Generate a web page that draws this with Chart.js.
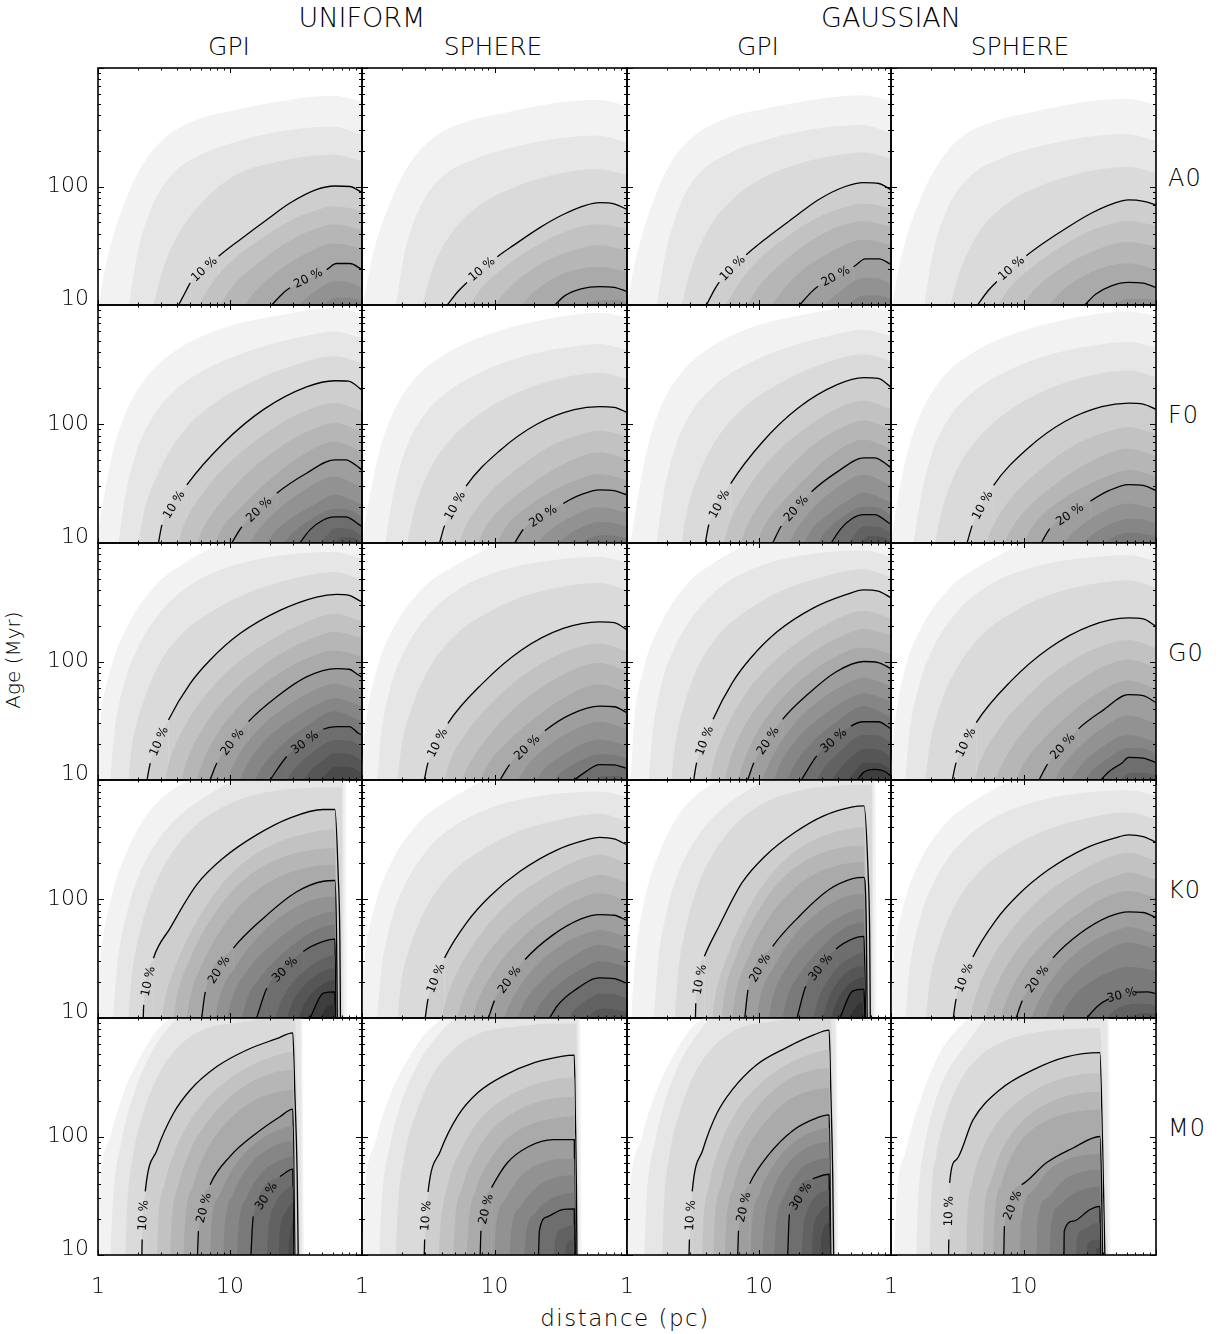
<!DOCTYPE html>
<html><head><meta charset="utf-8">
<script src="https://cdn.jsdelivr.net/npm/chart.js@4.4.1/dist/chart.umd.min.js"></script>
<style>
html,body{margin:0;padding:0;background:#fff;}
#wrap{position:relative;width:1226px;height:1334px;overflow:hidden;font-family:'DejaVu Sans',sans-serif;color:#000;}
#wrap canvas{position:absolute;}
.t{position:absolute;white-space:nowrap;line-height:1;font-weight:300;transform:translate(-50%,-50%);}
.r{position:absolute;white-space:nowrap;line-height:1;font-weight:300;transform:translate(0,-50%);font-size:24px;letter-spacing:1px;}
</style></head><body><div id="wrap">
<div class="t" style="left:362px;top:17px;font-size:27px">UNIFORM</div>
<div class="t" style="left:891px;top:17px;font-size:27px">GAUSSIAN</div>
<div class="t" style="left:229px;top:46px;font-size:25px">GPI</div>
<div class="t" style="left:493px;top:46px;font-size:25px">SPHERE</div>
<div class="t" style="left:758px;top:46px;font-size:25px">GPI</div>
<div class="t" style="left:1020px;top:46px;font-size:25px">SPHERE</div>
<div class="r" style="left:1168px;top:178px">A0</div>
<div class="r" style="left:1168px;top:415px">F0</div>
<div class="r" style="left:1168px;top:653px">G0</div>
<div class="r" style="left:1168px;top:890px">K0</div>
<div class="r" style="left:1168px;top:1128px">M0</div>
<div class="t" style="left:13px;top:660px;font-size:20px;transform:translate(-50%,-50%) rotate(-90deg)">Age (Myr)</div>
<div class="t" style="left:625px;top:1318px;font-size:23px;letter-spacing:1.5px">distance (pc)</div>
</div>
<script>
// ---------------- axis ticks ----------------
const X_TICKS = [1,2,3,4,5,6,7,8,9,10,20,30,40,50,60,70,80,90,100];
const X_MAJOR = [1,10,100];
const X_LABELS = [1,10];
const Y_TICKS = [10,20,30,40,50,60,70,80,90,100,200,300,400,500,600,700,800,900,1000];
const Y_MAJOR = [10,100,1000];
const Y_LABELS = [10,100];

const ROW_NAMES = ['A0','F0','G0','K0','M0'];
const COL_NAMES = ['UNIFORM GPI','UNIFORM SPHERE','GAUSSIAN GPI','GAUSSIAN SPHERE'];
// contour levels: 2.5 %, 5 %, ... ; lines drawn at 10, 20, 30, 40 %
const BLACK_LEVELS = [4,8,12,16];
const LEVEL_COLORS = ['#f2f2f2','#e6e6e6','#dadada','#cecece','#c2c2c2','#b6b6b6','#aaaaaa','#9e9e9e','#929292','#868686','#7a7a7a','#6e6e6e','#626262','#565656','#4a4a4a','#3e3e3e','#323232'];

// ---------------- contour data: each level = list of [distance (pc), age (Myr)] ----------------
const A0_UNIFORM_GPI = [
 [[1.01,10],[1.17,24],[1.7,88],[2.3,168],[3.3,264],[5.6,365],[11,443],[28,538],[60,582],[100,521]],
 [[1.71,10],[2.0,28],[2.6,70],[3.6,125],[6,185],[12,245],[28,300],[60,321],[100,273]],
 [[2.64,10],[3.1,20],[4.2,42],[6.5,78],[11,125],[22,160],[40,180],[62,185],[100,163]],
 [[4.08,10],[4.7,13.5],[5,15.4],[8.2,25.8],[11.9,35.6],[19,52.5],[28.5,72.5],[45,94],[62,101],[81,100],[100,89]],
 [[5.8,10],[7.2,15],[10.5,24],[17,36],[28,51],[45,63],[62,68],[100,62]],
 [[8.4,10],[10.5,14.5],[15,21],[25,32],[42,43],[62,48],[100,43]],
 [[13,10],[16,13.5],[22,18.5],[35,26],[62,33],[100,30]],
 [[20.7,10],[25.4,12.7],[28.5,14],[54,19.9],[64,22.4],[81,22.4],[100,19.9]],
 [[33,10],[42,12.5],[62,15.9],[80,15.5],[100,14]],
 [[51,10],[62,11.5],[80,11.5],[100,10.8]]
];
const A0_UNIFORM_GPI_LABELS = [[4,2,'10 %'],[8,2,'20 %']];

const A0_UNIFORM_SPHERE = [
 [[1.02,10],[1.18,24],[1.75,88],[2.4,168],[3.5,260],[6,350],[12,420],[28,505],[60,540],[100,480]],
 [[1.8,10],[2.1,28],[2.8,70],[4,120],[7,170],[14,215],[30,255],[60,270],[100,235]],
 [[2.85,10],[3.4,20],[4.7,40],[7.5,68],[13,95],[25,122],[45,138],[62,140],[100,125]],
 [[4.4,10],[5.3,13],[6.2,15.5],[10.5,25.5],[14,32],[22,45],[33,58],[48,69],[62,73],[81,71],[100,64]],
 [[6.5,10],[8,14],[12,21],[20,31],[35,42],[62,48],[100,44]],
 [[10,10],[12.5,13.5],[18,19],[30,26],[62,32],[100,29]],
 [[16,10],[20,13],[30,17.5],[62,21],[100,19]],
 [[28.5,10],[34,12],[45,13.7],[62,14.3],[80,14.1],[100,13]],
 [[48,10],[62,11],[85,11],[100,10.5]]
];
const A0_UNIFORM_SPHERE_LABELS = [[4,2,'10 %']];

const A0_GAUSSIAN_GPI = [
 [[1.0,10],[1.16,24],[1.68,90],[2.25,172],[3.25,270],[5.5,372],[11,452],[28,548],[60,590],[100,530]],
 [[1.68,10],[1.97,28],[2.55,72],[3.5,128],[5.9,190],[12,252],[28,308],[60,330],[100,283]],
 [[2.6,10],[3.05,20],[4.1,43],[6.3,78],[10.7,118],[21,158],[40,184],[62,194],[100,172]],
 [[4.0,10],[4.6,13.5],[5,15.6],[8,26.5],[11.5,37],[18.5,55],[28,77],[45,100],[62,108],[81,106],[100,94]],
 [[5.6,10],[7,15],[10.2,25],[16.5,38],[27,54],[45,67],[62,72],[100,66]],
 [[8.1,10],[10.2,14.8],[14.5,22],[24,34],[40,46],[62,51],[100,46]],
 [[12.5,10],[15.5,13.8],[21,19.5],[34,27.5],[62,35.5],[100,32]],
 [[20.3,10],[25,12.9],[28,14.4],[52,21],[64,24.5],[81,24.5],[100,22]],
 [[31,10],[40,12.7],[62,17],[80,16.7],[100,15]],
 [[47,10],[62,12],[80,12],[100,11.2]]
];
const A0_GAUSSIAN_GPI_LABELS = [[4,2,'10 %'],[8,2,'20 %']];

const A0_GAUSSIAN_SPHERE = [
 [[1.02,10],[1.18,24],[1.74,88],[2.4,170],[3.45,265],[6,355],[12,428],[28,515],[60,550],[100,490]],
 [[1.78,10],[2.08,28],[2.75,70],[3.95,122],[7,175],[14,222],[30,262],[60,278],[100,243]],
 [[2.8,10],[3.35,20],[4.6,41],[7.3,70],[12.5,98],[25,127],[45,143],[62,146],[100,130]],
 [[4.5,10],[5.4,13.2],[6.3,15.8],[10.5,26],[14,33],[22,46],[33,60],[48,72],[62,77],[81,75],[100,70]],
 [[6.4,10],[8,14.3],[12,21.5],[20,32],[35,44],[62,51],[100,47]],
 [[9.8,10],[12.3,13.8],[18,19.5],[30,27],[62,34],[100,31]],
 [[15.5,10],[19.5,13.2],[30,18.2],[62,22.5],[100,20]],
 [[29,10],[35,12.3],[46,14.5],[62,15.5],[80,15.3],[100,14]],
 [[46,10],[62,11.3],[85,11.3],[100,10.7]]
];
const A0_GAUSSIAN_SPHERE_LABELS = [[4,2,'10 %']];

const F0_UNIFORM_GPI = [
 [[0.97,10],[1.1,23],[1.31,61],[1.66,132],[2.35,250],[3.96,420],[8.9,640],[21,800],[62,940],[100,850]],
 [[1.43,10],[1.6,24],[1.95,58],[2.6,115],[4,200],[7.5,310],[16,430],[35,540],[62,600],[100,530]],
 [[2.03,10],[2.2,17],[2.9,40],[4.2,80],[7,140],[14,220],[30,310],[62,371],[100,325]],
 [[2.87,10],[3.05,14.2],[4.71,30.8],[8.9,69],[17.9,132],[38,205],[62,231],[79,229],[100,193]],
 [[4.07,10],[4.4,13.5],[6.2,26],[10.5,50],[19,85],[35,125],[62,150],[100,128]],
 [[5.6,10],[6.3,13.5],[8.8,23],[14,40],[24,64],[40,88],[62,102],[100,86]],
 [[7.7,10],[8.8,13.5],[12.5,21],[20,34],[33,52],[62,71],[100,59]],
 [[10.3,10],[12.3,13.7],[22.6,26.2],[38,38.6],[62,50],[75,50],[96,42.6],[100,41]],
 [[14.2,10],[16.5,13],[23,19],[35,27],[62,36],[100,29]],
 [[19,10],[22,12.5],[30,16.5],[45,21.5],[62,25.4],[100,21]],
 [[25.4,10],[30,12.2],[40,15.5],[62,19.3],[80,19],[100,16.3]],
 [[33.8,10],[40.3,12.9],[50.9,15.6],[62,16.6],[75,16.6],[96,14.2],[100,13.8]],
 [[48,10],[55,11.8],[62,13.3],[80,13.2],[100,11.5]],
 [[62,10],[70,11.1],[88,11],[100,10]]
];
const F0_UNIFORM_GPI_LABELS = [[4,1,'10 %'],[8,1,'20 %']];

const F0_UNIFORM_SPHERE = [
 [[1.0,10],[1.13,23],[1.36,60],[1.75,130],[2.5,240],[4.3,390],[9.5,580],[22,740],[62,860],[100,790]],
 [[1.5,10],[1.7,24],[2.1,58],[2.8,110],[4.4,185],[8.3,280],[18,380],[40,450],[62,470],[100,420]],
 [[2.2,10],[2.45,18],[3.2,40],[4.7,75],[8,125],[16,190],[33,245],[62,270],[100,238]],
 [[3.85,10],[4.2,14],[6.1,30],[11,60],[21,100],[40,132],[62,140],[80,138],[100,125]],
 [[5.4,10],[6,13.5],[8.5,24],[14,40],[25,63],[45,82],[62,88],[100,78]],
 [[7.5,10],[8.5,13.5],[12,21],[19.5,32],[33,46],[62,58],[100,51]],
 [[10.5,10],[12,13.3],[16.5,19],[26,26.5],[45,35],[62,38],[100,34]],
 [[14.2,10],[16.5,13],[33,21.5],[45,25.5],[62,28],[80,27.5],[100,25.4]],
 [[21,10],[25,12.2],[35,15.8],[62,20],[100,18]],
 [[30,10],[37,12],[50,14.2],[62,15],[80,14.8],[100,13.6]],
 [[45,10],[55,11.3],[70,11.6],[100,11]]
];
const F0_UNIFORM_SPHERE_LABELS = [[4,1,'10 %'],[8,1,'20 %']];

const F0_GAUSSIAN_GPI = [
 [[1.06,10],[1.2,23],[1.42,62],[1.78,135],[2.48,255],[4.15,430],[9.1,655],[20.5,820],[62,960],[100,870]],
 [[1.68,10],[1.87,24],[2.27,59],[2.97,118],[4.45,205],[8.09,318],[16.6,442],[35,555],[62,620],[100,548]],
 [[2.6,10],[2.8,17],[3.6,41],[5.05,82],[8.05,144],[15.2,228],[30.7,322],[62,385],[100,338]],
 [[3.92,10],[4.17,14.3],[6.1,31.5],[10.66,71],[19.9,137],[39.1,214],[62,245],[80,242],[100,204]],
 [[5.41,10],[5.84,13.7],[7.84,26.5],[12.5,52],[21.2,88],[36.4,130],[62,157],[100,134]],
 [[7.24,10],[8.05,13.7],[10.8,23.5],[16.2,41],[25.9,67],[41.2,92],[62,107],[100,90]],
 [[9.69,10],[10.9,13.7],[14.8,21.5],[22.4,35],[34.8,54],[62,74],[100,62]],
 [[12.7,10],[14.75,13.9],[25,27],[39.7,40],[62,52],[75,52],[96,44.5],[100,43]],
 [[17,10],[19.4,13.2],[25.6,19.5],[37.2,28],[62,37.5],[100,30.5]],
 [[21.8,10],[24.7,12.7],[32.5,17],[46.3,22.5],[62,26.5],[100,22]],
 [[27.6,10],[31.9,12.4],[40.9,16],[62,20.2],[80,19.9],[100,17]],
 [[35.2,10],[41.5,13.1],[50.5,16],[62,17.3],[75,17.3],[96,14.8],[100,14.4]],
 [[48.2,10],[54,12],[62,13.8],[80,13.7],[100,12]],
 [[59.7,10],[68,11.4],[86,11.3],[100,10.2]]
];
const F0_GAUSSIAN_GPI_LABELS = [[4,1,'10 %'],[8,1,'20 %']];

const F0_GAUSSIAN_SPHERE = [
 [[1.0,10],[1.12,23],[1.35,61],[1.73,132],[2.45,245],[4.2,400],[9.3,595],[21.5,760],[62,880],[100,810]],
 [[1.48,10],[1.68,24],[2.07,59],[2.75,113],[4.3,190],[8.1,290],[17.5,395],[39,468],[62,490],[100,437]],
 [[2.15,10],[2.4,18],[3.13,41],[4.6,77],[7.8,130],[15.6,198],[32,256],[62,282],[100,248]],
 [[3.75,10],[4.1,14],[5.95,30.5],[10.7,62],[20.5,105],[39,140],[62,150],[80,147],[100,133]],
 [[5.2,10],[5.8,13.5],[8.2,24.5],[13.5,41.5],[24,66],[44,87],[62,94],[100,83]],
 [[7.2,10],[8.2,13.5],[11.6,21.5],[19,33.5],[32,48.5],[62,62],[100,54]],
 [[10,10],[11.5,13.4],[15.8,19.5],[25,27.5],[44,37],[62,41],[100,36.5]],
 [[13.6,10],[15.8,13.2],[32,22.5],[44,27.5],[62,31],[80,30.5],[100,27.5]],
 [[20,10],[24,12.4],[33,16.3],[62,21.5],[100,19.2]],
 [[28,10],[34.5,12.2],[47,14.7],[62,16],[80,15.8],[100,14.4]],
 [[41,10],[50,11.5],[65,12.2],[100,11.5]]
];
const F0_GAUSSIAN_SPHERE_LABELS = [[4,1,'10 %'],[8,1,'20 %']];

const G0_UNIFORM_GPI = [
 [[0.98,10],[1.04,30],[1.24,84],[1.66,196],[2.8,453],[4.44,667],[6.7,867],[9.5,1050],[30,1300],[100,1300]],
 [[1.24,10],[1.33,25],[1.56,62],[2.0,130],[3.0,265],[5,440],[9.5,620],[20,760],[62,840],[100,740]],
 [[1.7,10],[1.82,20],[2.2,45],[2.9,95],[4.3,170],[7.5,270],[14.5,390],[30,500],[62,570],[100,490]],
 [[2.35,10],[2.49,13.9],[3.42,32.1],[5,65.3],[7.07,103],[11.9,172],[23.9,270],[45.3,350],[64,369],[80,362],[94,330],[100,318]],
 [[3.23,10],[3.45,14],[4.5,28],[6.8,55],[11,95],[20,150],[38,215],[62,253],[100,218]],
 [[4.3,10],[4.65,14],[6.2,27],[9.3,49],[15,80],[27,125],[45,162],[62,178],[100,157]],
 [[5.6,10],[6.2,14],[8.3,26],[12.5,45],[20,70],[36,103],[62,124],[100,110]],
 [[7.07,10],[7.95,13.9],[13.8,31.1],[22.6,50.5],[38,74.3],[64,87.2],[80,86],[94,77],[100,74]],
 [[9.5,10],[10.8,14],[16,26],[26,41],[42,56],[62,65],[100,56]],
 [[11.9,10],[13.6,13.8],[19.5,23],[30,33],[45,43],[62,49],[100,42]],
 [[15.5,10],[18,13.5],[25,20],[37,28],[62,38],[100,31]],
 [[20.1,10],[26.9,15.8],[50.9,26.8],[64,28.2],[80,28.2],[94,24.8],[100,24]],
 [[26.9,10],[31,12.5],[40,16.3],[62,21.7],[80,21.5],[100,18.8]],
 [[35.9,10],[42,12.4],[52,15],[62,16.8],[80,16.6],[100,14.5]],
 [[48,10],[55,11.5],[62,13],[80,12.9],[100,11.5]]
];
const G0_UNIFORM_GPI_LABELS = [[4,1,'10 %'],[8,1,'20 %'],[12,1,'30 %']];

const G0_UNIFORM_SPHERE = [
 [[0.98,10],[1.06,28],[1.27,80],[1.7,185],[2.9,420],[4.6,610],[7.2,800],[10.5,1000],[30,1200],[100,1150]],
 [[1.3,10],[1.4,25],[1.65,62],[2.15,130],[3.3,260],[5.6,420],[11,580],[24,700],[62,760],[100,680]],
 [[1.85,10],[2.0,20],[2.45,45],[3.3,92],[5,165],[9,260],[18,365],[38,440],[62,460],[100,400]],
 [[2.95,10],[3.15,14],[4.45,30],[8.2,66],[16,125],[33,190],[62,216],[80,213],[100,185]],
 [[4.2,10],[4.5,13.5],[6.3,26],[10.5,50],[19,85],[35,122],[62,142],[100,122]],
 [[5.7,10],[6.4,13.5],[8.9,23],[14,40],[24,63],[40,86],[62,97],[100,83]],
 [[7.8,10],[8.9,13.5],[12.6,21],[20,33],[33,49],[62,64],[100,55]],
 [[11,10],[13,13.5],[24,26],[38,36],[62,42],[80,41.5],[100,37]],
 [[15,10],[17.5,13],[24,18.5],[36,25],[62,31],[100,27]],
 [[20.5,10],[24,12.5],[33,16.3],[62,22],[100,19.5]],
 [[28,10],[33,12],[44,14.5],[62,16.5],[80,16.3],[100,15]],
 [[40,10],[48,11.6],[62,13.5],[80,13.4],[100,12.5]],
 [[58,10],[66,10.8],[85,10.8],[100,10.3]]
];
const G0_UNIFORM_SPHERE_LABELS = [[4,1,'10 %'],[8,1,'20 %']];

const G0_GAUSSIAN_GPI = [
 [[1.067,10],[1.13,30],[1.335,86],[1.77,200],[2.9,460],[4.57,680],[6.74,880],[9.4,1050],[30,1300],[100,1300]],
 [[1.464,10],[1.567,25],[1.816,63],[2.31,133],[3.4,270],[5.51,450],[10.05,635],[20.1,780],[62,870],[100,770]],
 [[2.17,10],[2.32,20],[2.76,46],[3.57,97],[5.11,175],[8.53,280],[15.6,405],[30.7,520],[62,600],[100,515]],
 [[3.2,10],[3.37,14],[4.49,32.5],[6.32,67],[8.59,106],[13.7,178],[25.7,282],[45.5,366],[62,402],[80,392],[100,345]],
 [[4.25,10],[4.52,14],[5.75,28.5],[8.27,57],[12.8,99],[21.9,158],[39,228],[62,268],[100,230]],
 [[5.5,10],[5.92,14],[7.64,27.5],[11.03,50],[16.9,83],[28.4,130],[45.5,170],[62,188],[100,166]],
 [[6.92,10],[7.6,14],[9.9,26.5],[14.3,46],[21.8,73],[37,108],[62,131],[100,116]],
 [[8.21,10],[9.14,14],[15.1,32.5],[23.9,54],[38.5,82],[62,100],[80,98],[100,87]],
 [[10.58,10],[11.96,14],[17.2,27],[26.7,44],[42.3,62],[62,73],[100,62]],
 [[12.9,10],[14.6,14],[20.6,24],[30.5,35],[45,47],[62,54],[100,46]],
 [[16.35,10],[18.8,13.7],[25.4,21],[37.2,30],[62,42],[100,34]],
 [[20.9,10],[27.4,16],[49.7,28.5],[62,31],[80,31],[100,27]],
 [[27.3,10],[31.3,12.8],[40,17],[62,24],[80,23.7],[100,20.5]],
 [[35.5,10],[41.5,12.6],[50,15.6],[62,18.3],[80,18],[100,15.7]],
 [[47,10],[53.5,11.8],[62,14],[80,13.9],[100,12.3]],
 [[55.5,10],[62,11.6],[75,12.3],[90,11.8],[100,10.8]]
];
const G0_GAUSSIAN_GPI_LABELS = [[4,1,'10 %'],[8,1,'20 %'],[12,1,'30 %']];

const G0_GAUSSIAN_SPHERE = [
 [[0.98,10],[1.06,28],[1.26,82],[1.68,190],[2.85,430],[4.5,625],[7,820],[10,1010],[30,1250],[100,1200]],
 [[1.28,10],[1.38,25],[1.63,63],[2.1,133],[3.2,268],[5.4,435],[10.5,600],[23,725],[62,790],[100,705]],
 [[1.82,10],[1.97,20],[2.4,46],[3.25,94],[4.9,170],[8.8,270],[17.5,380],[37,460],[62,485],[100,420]],
 [[2.9,10],[3.1,14],[4.4,30.5],[8,68],[15.7,130],[32,200],[62,233],[80,229],[100,198]],
 [[4.3,10],[4.62,13.5],[6.46,26.5],[10.64,51],[19,88],[34.4,128],[62,152],[100,130]],
 [[6.1,10],[6.84,13.5],[9.4,23.5],[14.5,41],[24.4,65],[39.7,90],[62,104],[100,89]],
 [[8.78,10],[9.96,13.5],[13.8,21.5],[21.1,34],[33.6,51],[62,69],[100,59]],
 [[13.1,10],[15.2,13.6],[26,27],[39.5,38.5],[62,52.5],[80,51.5],[100,45]],
 [[17.3,10],[19.8,13.2],[26.3,19],[37.8,26.5],[62,35],[100,30]],
 [[22.7,10],[26,12.6],[34.2,17],[62,24],[100,21]],
 [[29.1,10],[33.5,12.2],[43.3,15.2],[62,18.6],[80,18.4],[100,16.6]],
 [[38.2,10],[44.7,11.9],[55.7,14],[62,15.5],[80,15.3],[100,14]],
 [[54,10],[61,11.3],[75,11.5],[100,11]]
];
const G0_GAUSSIAN_SPHERE_LABELS = [[4,1,'10 %'],[8,1,'20 %']];

const K0_UNIFORM_GPI = [
 [[0.97,10],[1.04,29.8],[1.24,95],[1.66,252],[2.35,513],[3.52,801],[4.7,974],[6,1200],[30,1400],[75,1400],[77,9]],
 [[1.3,10],[1.4,28],[1.65,75],[2.1,170],[2.9,320],[4.3,520],[7,760],[11,1000],[30,1250],[72,1250],[73.5,9]],
 [[1.7,10],[1.8,22],[2.1,55],[2.65,125],[3.6,240],[5.3,400],[9,600],[18,780],[40,860],[62,870],[70.5,860],[71.5,9]],
 [[2.2,10],[2.22,12.9],[2.63,31.8],[3.52,57],[5.6,132],[8.9,221],[15.9,346],[28.6,481],[50.9,565],[62.4,565],[66,160],[68,44],[68.7,9]],
 [[3.05,10],[3.2,14],[4,30],[5.6,65],[8.5,130],[14,220],[25,310],[45,370],[62,383],[67.5,9]],
 [[3.73,10],[3.95,15],[5,32],[7,65],[11,125],[18,190],[32,245],[50,265],[62,268],[66.8,9]],
 [[4.7,10],[5.0,15],[6.4,31],[9,60],[14,105],[24,155],[40,185],[62,195],[66.2,9]],
 [[6.1,10],[6.5,16.6],[10.6,38.6],[17.9,69],[32,115],[51,141],[62.4,143],[64.2,44],[65,9]],
 [[7.7,10],[8.3,15],[11,27],[16,47],[26,75],[42,98],[62,105],[64.6,9]],
 [[9.5,10],[10.3,14.5],[13.5,25],[20,40],[32,60],[50,75],[62,78.5],[64.2,9]],
 [[12.3,10],[13.5,14.5],[17.5,23],[26,36],[42,53],[62,60.7],[63.8,9]],
 [[15.9,10],[19,17.8],[35.9,36.2],[51,44],[62.4,46],[63.3,9]],
 [[22,10],[24.5,14],[30,20],[40,27],[52,32],[62,33.9],[63.1,9]],
 [[26.9,10],[30,13.8],[37,19],[48,24],[62,26.2],[62.9,9]],
 [[32.9,10],[37,13.5],[45,17.5],[55,20.2],[62,21],[62.8,9]],
 [[40.4,10],[51,16.2],[62.4,16.6],[62.7,9]],
 [[48,10],[53,12],[60,12.9],[62.3,12.8],[62.6,9]]
];
const K0_UNIFORM_GPI_LABELS = [[4,1,'10 %'],[8,1,'20 %'],[12,1,'30 %']];

const K0_UNIFORM_SPHERE = [
 [[0.97,10],[1.04,30],[1.24,85],[1.65,200],[2.75,450],[4.3,660],[6.5,860],[9.3,1050],[30,1300],[100,1300]],
 [[1.3,10],[1.4,25],[1.64,62],[2.1,130],[3.15,262],[5.3,430],[10,600],[21,730],[62,800],[100,720]],
 [[1.85,10],[1.98,20],[2.4,45],[3.2,93],[4.8,168],[8.3,265],[16,380],[33,470],[62,520],[100,450]],
 [[3.0,10],[3.15,14.5],[4.2,32],[6.2,64],[9.2,105],[15.5,170],[30,260],[50,315],[62,330],[80,320],[100,285]],
 [[4.0,10],[4.3,14],[5.6,28],[8.3,55],[13.3,97],[24,153],[44,215],[62,235],[100,200]],
 [[5.2,10],[5.7,14],[7.6,27],[11.4,49],[18.5,80],[32,122],[50,150],[62,160],[100,138]],
 [[6.8,10],[7.5,14],[10.2,26],[15.5,45],[25,70],[43,100],[62,112],[100,98]],
 [[9,10],[10,14],[17,31],[27,49],[45,68],[62,74],[80,73],[100,66]],
 [[11.8,10],[13.4,14],[19.5,25.5],[31,40],[50,52],[62,55],[100,48]],
 [[15,10],[17,13.8],[24,22],[36,31],[62,41],[100,36]],
 [[19.5,10],[22.5,13.5],[31,19.5],[46,26],[62,30],[100,27]],
 [[26,10],[30,12.8],[40,17],[62,21.7],[80,21.4],[100,19.5]],
 [[36,10],[42,12.3],[52,14.6],[62,16],[80,15.8],[100,14.5]],
 [[50,10],[58,11.6],[70,12],[100,11.2]]
];
const K0_UNIFORM_SPHERE_LABELS = [[4,1,'10 %'],[8,1,'20 %']];

const K0_GAUSSIAN_GPI = [
 [[1.075,10],[1.151,30],[1.358,98],[1.8,260],[2.52,530],[3.73,820],[4.89,990],[6.4,1200],[30,1400],[76,1400],[78,9]],
 [[1.6,10],[1.718,29],[2.0,78],[2.5,176],[3.4,330],[4.9,535],[7.72,780],[11.6,1010],[30,1300],[73,1300],[74.5,9]],
 [[2.3,10],[2.43,23],[2.79,57],[3.45,130],[4.58,248],[6.48,415],[10.5,625],[19.6,810],[41.6,900],[62,910],[71.5,900],[72.5,9]],
 [[3.3,10],[3.32,13.3],[3.86,33],[4.98,59],[7.44,137],[11.1,229],[18.5,360],[30.9,500],[51.3,595],[62.4,605],[67,170],[69,46],[69.7,9]],
 [[4.44,10],[4.63,14.5],[5.64,31],[7.52,67],[10.9,135],[16.8,228],[27.6,322],[46,385],[62,400],[68.5,9]],
 [[5.2,10],[5.47,15.5],[6.71,33],[9.05,67],[13.4,130],[20.7,198],[33.8,255],[50.5,277],[62,281],[67.8,9]],
 [[6.26,10],[6.62,15.5],[8.26,32],[11.1,62],[16.5,109],[26.4,162],[41.2,194],[62,205],[67.2,9]],
 [[7.8,10],[8.26,17.2],[12.7,40],[20.3,72],[34,120],[51.2,148],[62.4,152],[65.2,46],[66,9]],
 [[9.6,10],[10.3,15.5],[13.25,28],[18.4,49],[28.3,78],[43,103],[62,110],[65.6,9]],
 [[11.8,10],[12.7,15],[16,26],[22.7,42],[34.3,63],[50.5,79],[62,83],[65.2,9]],
 [[15.1,10],[16.4,15],[20.6,24],[28.9,38],[43.5,56],[62,64],[64.8,9]],
 [[19.4,10],[22.6,18.5],[38.4,38],[51.7,46.5],[62.4,48.5],[64.3,9]],
 [[25.8,10],[28.2,14.5],[33.5,21],[42.2,28.5],[52.7,33.5],[62,35.5],[64.1,9]],
 [[30.1,10],[33.3,14.2],[39.3,20],[49.2,25.5],[62,27.5],[63.9,9]],
 [[35.2,10],[38.9,13.8],[46.2,18.3],[55.1,21.3],[62,22],[63.7,9]],
 [[41,10],[51.1,16.8],[62.4,17.5],[63.5,9]],
 [[48.4,10],[54,12.4],[60,13.5],[63.3,9]]
];
const K0_GAUSSIAN_GPI_LABELS = [[4,1,'10 %'],[8,1,'20 %'],[12,1,'30 %']];

const K0_GAUSSIAN_SPHERE = [
 [[0.97,10],[1.04,30],[1.24,87],[1.64,205],[2.72,460],[4.25,670],[6.4,870],[9.1,1060],[30,1300],[100,1300]],
 [[1.28,10],[1.38,25],[1.62,63],[2.07,133],[3.1,268],[5.2,440],[9.8,610],[20.5,745],[62,820],[100,740]],
 [[1.83,10],[1.96,20],[2.38,46],[3.15,95],[4.7,172],[8.1,272],[15.7,390],[32,485],[62,535],[100,465]],
 [[2.95,10],[3.1,14.5],[4.15,32.5],[6.1,65],[9.1,108],[15.3,175],[29.5,268],[50,328],[62,346],[80,335],[100,300]],
 [[3.95,10],[4.25,14],[5.5,28.5],[8.2,56],[13.1,99],[23.7,158],[43,222],[62,245],[100,210]],
 [[5.1,10],[5.6,14],[7.5,27.5],[11.2,50],[18.2,82],[31.5,126],[50,156],[62,167],[100,145]],
 [[6.7,10],[7.4,14],[10,26.5],[15.2,46],[24.5,72],[42,104],[62,117],[100,103]],
 [[8.8,10],[9.8,14],[16.7,32],[26.5,51],[44,71],[62,78],[80,77],[100,70]],
 [[11.5,10],[13.1,14],[19,26],[30,41],[49,54],[62,58],[100,51]],
 [[14.6,10],[16.6,13.8],[23.5,22.5],[35,32],[62,43],[100,38]],
 [[19,10],[22,13.5],[30,19],[45,24.5],[62,27],[100,25]],
 [[30,10],[36,12.5],[44,14.5],[70,16.5],[86,16.6],[100,16]],
 [[42,10],[50,11.8],[62,13],[80,13.2],[100,12.8]],
 [[60,10],[70,10.8],[90,11],[100,10.8]]
];
const K0_GAUSSIAN_SPHERE_LABELS = [[4,1,'10 %'],[8,1,'20 %'],[12,2,'30 %']];

const M0_UNIFORM_GPI = [
 [[0.99,10],[1.01,24.2],[1.24,100],[1.56,233],[2.09,470],[2.8,790],[3.52,990],[4.5,1300],[20,1400],[35,1400],[36.5,9]],
 [[1.24,10],[1.3,30],[1.5,90],[1.85,220],[2.4,450],[3.2,760],[4,1000],[5,1300],[20,1500],[34,1500],[35.3,9]],
 [[1.61,10],[1.66,25],[1.85,70],[2.25,170],[2.95,350],[4,560],[6,780],[12,920],[25,1000],[31,1000],[34,9]],
 [[2.15,10],[2.16,13.5],[2.28,34.4],[2.8,77],[3.73,157],[5,247],[7.95,389],[13.4,537],[22.6,670],[29.9,750],[31,232],[32.3,46],[32.9,9]],
 [[2.8,10],[2.85,18],[3.2,40],[4,85],[5.5,160],[8.5,270],[14,390],[22,480],[29.9,520],[30.7,150],[31.9,9]],
 [[3.52,10],[3.6,18],[4.1,40],[5.1,80],[7,140],[11,235],[17.5,320],[29.9,365],[30.6,110],[31.6,9]],
 [[4.44,10],[4.55,18],[5.3,40],[6.6,75],[9.3,130],[14.5,195],[22,235],[29.9,247],[30.5,80],[31.3,9]],
 [[5.67,10],[5.77,15.9],[7.07,39.2],[10,68],[15.9,107],[23.9,147],[29.9,170],[30.5,46],[31,9]],
 [[7.07,10],[7.2,17],[8.3,32],[11,58],[16,90],[23,113],[29.9,122],[30.4,40],[30.9,9]],
 [[8.9,10],[9.1,17],[10.5,32],[13.7,55],[19.5,78],[29.9,91],[30.3,35],[30.8,9]],
 [[11.3,10],[11.6,17],[13.5,31],[17.5,50],[24,63],[29.9,68],[30.2,30],[30.6,9]],
 [[14.4,10],[15,21.2],[23.9,46],[29.9,53],[30.1,24.2],[30.4,9]],
 [[19,10],[19.5,16],[22,27],[26,35],[29.9,38],[30.05,20],[30.3,9]],
 [[23.3,10],[23.8,15.5],[26.5,23],[29.9,27.5],[30.02,16],[30.2,9]],
 [[27.6,10],[28.2,14],[29.9,18.7],[30.0,12],[30.1,9]]
];
const M0_UNIFORM_GPI_LABELS = [[4,1,'10 %'],[8,1,'20 %'],[12,1,'30 %']];

const M0_UNIFORM_SPHERE = [
 [[1.0,10],[1.03,24],[1.28,95],[1.62,220],[2.2,440],[3.0,740],[3.8,950],[4.8,1250],[20,1400],[44,1400],[45.5,9]],
 [[1.35,10],[1.41,28],[1.63,85],[2.0,200],[2.65,410],[3.6,680],[4.6,920],[5.8,1200],[20,1400],[42.5,1400],[43.8,9]],
 [[1.8,10],[1.86,24],[2.07,65],[2.55,155],[3.35,320],[4.7,520],[7.2,720],[15,850],[30,900],[41.5,900],[42.7,9]],
 [[2.95,10],[2.97,13.5],[3.15,34],[3.9,75],[5.3,150],[7.5,235],[12,330],[20,420],[32,475],[40,487],[40.8,140],[41.5,40],[41.9,9]],
 [[3.8,10],[3.9,17],[4.4,38],[5.6,78],[7.8,140],[12,210],[20,275],[32,310],[40,315],[40.6,100],[41.3,9]],
 [[4.9,10],[5.0,17],[5.7,37],[7.2,72],[10,120],[15.5,170],[25,205],[40,215],[40.5,70],[41.1,9]],
 [[6.2,10],[6.35,17],[7.3,36],[9.3,64],[13,100],[20,130],[32,145],[40,148],[40.4,50],[40.9,9]],
 [[7.8,10],[7.9,16],[9.5,37],[12.5,60],[18,82],[28,94],[40,94],[40.3,35],[40.8,9]],
 [[10,10],[10.2,16],[12.2,30],[16,47],[23,60],[33,65],[40,65],[40.25,25],[40.7,9]],
 [[13,10],[13.3,15.5],[15.8,26],[20.5,37],[29,45],[40,47],[40.2,20],[40.6,9]],
 [[16.8,10],[17.3,15],[20.5,23],[27,30],[35,33],[40,33.5],[40.15,16],[40.5,9]],
 [[21.5,10],[21.8,16],[25,21],[32,24],[40,24.5],[40.1,13],[40.4,9]],
 [[28,10],[29,14],[33,16.8],[40,18],[40.08,12],[40.3,9]],
 [[34,10],[35,12.5],[39.9,13.5],[40.05,11],[40.2,9]]
];
const M0_UNIFORM_SPHERE_LABELS = [[4,1,'10 %'],[8,1,'20 %']];

const M0_GAUSSIAN_GPI = [
 [[1.0,10],[1.03,24],[1.3,100],[1.66,235],[2.25,480],[3.0,800],[3.75,1000],[4.8,1300],[20,1400],[38.5,1400],[40,9]],
 [[1.35,10],[1.41,30],[1.63,90],[2.0,220],[2.6,450],[3.5,760],[4.3,1000],[5.5,1300],[20,1500],[37.5,1500],[38.7,9]],
 [[1.85,10],[1.9,25],[2.1,70],[2.55,170],[3.3,350],[4.5,570],[6.7,800],[13,940],[26,1000],[35,1000],[37.8,9]],
 [[2.95,10],[2.97,13.5],[3.12,34.4],[3.75,77],[4.8,157],[6.3,250],[9.5,400],[16,560],[26,720],[34,790],[35,240],[36.2,46],[36.8,9]],
 [[3.7,10],[3.78,18],[4.2,40],[5.1,85],[6.8,165],[10.2,280],[16.5,410],[25,500],[34,540],[34.8,150],[35.8,9]],
 [[4.5,10],[4.6,18],[5.2,40],[6.4,82],[8.5,145],[12.8,245],[20,335],[34,375],[34.7,110],[35.6,9]],
 [[5.5,10],[5.65,18],[6.5,40],[8.1,78],[11.3,135],[17,205],[25,245],[34,255],[34.6,80],[35.3,9]],
 [[6.9,10],[7.0,16],[8.5,40],[11.8,70],[18,112],[26,140],[34,152],[34.5,46],[35,9]],
 [[8.6,10],[8.8,17],[10.1,33],[13.3,60],[19,92],[27,112],[34,118],[34.4,40],[34.9,9]],
 [[10.6,10],[10.9,17],[12.5,33],[16,56],[22,78],[34,90],[34.35,35],[34.8,9]],
 [[13,10],[13.4,17],[15.5,31],[20,51],[27,63],[34,66],[34.3,30],[34.7,9]],
 [[16.5,10],[17,22],[25.5,44],[34,48],[34.2,24],[34.5,9]],
 [[21,10],[21.6,16],[24,26],[28.5,33],[34,35],[34.15,20],[34.4,9]],
 [[25,10],[25.6,15.5],[28.5,22.5],[34,26],[34.1,17],[34.3,9]],
 [[29,10],[29.6,14],[33.9,18.5],[34.05,14],[34.2,9]]
];
const M0_GAUSSIAN_GPI_LABELS = [[4,1,'10 %'],[8,1,'20 %'],[12,1,'30 %']];

const M0_GAUSSIAN_SPHERE = [
 [[1.06,10],[1.09,24.2],[1.3,77],[1.74,233],[2.33,505],[3.3,846],[3.9,1000],[5,1300],[20,1400],[44,1400],[45.5,9]],
 [[1.55,10],[1.6,28],[1.78,80],[2.1,180],[2.7,360],[3.7,600],[5.25,1000],[8,1300],[42.5,1300],[43.8,9]],
 [[1.96,10],[2.0,26],[2.2,70],[2.6,150],[3.3,290],[4.6,470],[7.2,640],[13,760],[25,810],[37.7,818],[39.5,300],[42,9]],
 [[2.72,10],[2.73,13.5],[2.77,40.6],[3.11,63.6],[4.16,138],[6.6,247],[11.8,365],[21.1,470],[37.7,510],[39.5,88],[41.2,9]],
 [[3.7,10],[3.75,18],[4.1,40],[5.0,82],[7,150],[11,230],[18,300],[28,335],[37.7,340],[39.2,80],[40.6,9]],
 [[4.95,10],[5.0,18],[5.6,40],[6.9,78],[9.5,130],[14.5,185],[23,225],[37.7,239],[39,70],[40.2,9]],
 [[5.9,10],[6.0,18],[6.8,40],[8.5,75],[11.7,115],[17,145],[26,163],[37.7,168],[38.8,60],[39.9,9]],
 [[7.1,10],[7.18,17.5],[9.67,39.2],[14.9,60],[23.7,80],[37.7,100],[38.9,33.4],[39.5,9]],
 [[9.4,10],[9.5,17],[11.5,34],[15.5,52],[22,65],[30,70],[37.7,72],[38.5,28],[39.2,9]],
 [[12.5,10],[12.6,17],[15,30],[19.5,42],[27,50],[37.7,52.5],[38.35,24],[39,9]],
 [[15.8,10],[16,16],[18.5,26],[24,33],[32,37],[37.7,38],[38.25,20],[38.8,9]],
 [[20.2,10],[20.3,15.9],[23.7,19.3],[31.8,24.2],[37.7,25.7],[38.2,9]],
 [[25,10],[25.2,13.5],[28.5,16.5],[33,18.2],[37.7,18.6],[38.1,9]],
 [[30,10],[30.3,12],[34,13.3],[37.7,13.5],[38,9]],
 [[35,10],[35.5,11.3],[37.7,11.5],[37.9,9]]
];
const M0_GAUSSIAN_SPHERE_LABELS = [[4,1,'10 %'],[8,1,'20 %']];

// ---------------- table for the library ----------------
const PANELS = [
 [[A0_UNIFORM_GPI,A0_UNIFORM_GPI_LABELS],[A0_UNIFORM_SPHERE,A0_UNIFORM_SPHERE_LABELS],[A0_GAUSSIAN_GPI,A0_GAUSSIAN_GPI_LABELS],[A0_GAUSSIAN_SPHERE,A0_GAUSSIAN_SPHERE_LABELS]],
 [[F0_UNIFORM_GPI,F0_UNIFORM_GPI_LABELS],[F0_UNIFORM_SPHERE,F0_UNIFORM_SPHERE_LABELS],[F0_GAUSSIAN_GPI,F0_GAUSSIAN_GPI_LABELS],[F0_GAUSSIAN_SPHERE,F0_GAUSSIAN_SPHERE_LABELS]],
 [[G0_UNIFORM_GPI,G0_UNIFORM_GPI_LABELS],[G0_UNIFORM_SPHERE,G0_UNIFORM_SPHERE_LABELS],[G0_GAUSSIAN_GPI,G0_GAUSSIAN_GPI_LABELS],[G0_GAUSSIAN_SPHERE,G0_GAUSSIAN_SPHERE_LABELS]],
 [[K0_UNIFORM_GPI,K0_UNIFORM_GPI_LABELS],[K0_UNIFORM_SPHERE,K0_UNIFORM_SPHERE_LABELS],[K0_GAUSSIAN_GPI,K0_GAUSSIAN_GPI_LABELS],[K0_GAUSSIAN_SPHERE,K0_GAUSSIAN_SPHERE_LABELS]],
 [[M0_UNIFORM_GPI,M0_UNIFORM_GPI_LABELS],[M0_UNIFORM_SPHERE,M0_UNIFORM_SPHERE_LABELS],[M0_GAUSSIAN_GPI,M0_GAUSSIAN_GPI_LABELS],[M0_GAUSSIAN_SPHERE,M0_GAUSSIAN_SPHERE_LABELS]]
];

// ---------------- layout (page pixels) ----------------
const COL_LEFT = [98, 362, 627, 891];
const COL_RIGHT = [362, 627, 891, 1156];
const ROW_TOP = [68, 305, 543, 780, 1018];
const ROW_BOTTOM = [305, 543, 780, 1018, 1255];
const PAD_L = 60, PAD_T = 10, PAD_R = 10, PAD_B = 45;
const FONT = '"DejaVu Sans", sans-serif';

function framePlugin(showY, showX) {
  return {
    id: 'frameTicks',
    afterDraw(chart) {
      const {ctx, chartArea: a, scales: {x, y}} = chart;
      ctx.save();
      ctx.strokeStyle = '#000';
      ctx.lineWidth = 1;
      ctx.beginPath();
      for (const v of X_TICKS) {
        const px = Math.round(x.getPixelForValue(v)) + 0.5;
        const len = X_MAJOR.includes(v) ? 5 : 2.5;
        ctx.moveTo(px, a.bottom); ctx.lineTo(px, a.bottom - len);
        ctx.moveTo(px, a.top); ctx.lineTo(px, a.top + len);
      }
      for (const v of Y_TICKS) {
        const py = Math.round(y.getPixelForValue(v)) + 0.5;
        const len = Y_MAJOR.includes(v) ? 6 : 3;
        ctx.moveTo(a.left, py); ctx.lineTo(a.left + len, py);
        ctx.moveTo(a.right, py); ctx.lineTo(a.right - len, py);
      }
      ctx.stroke();
      ctx.lineWidth = 1.6;
      ctx.strokeRect(a.left, a.top, a.right - a.left, a.bottom - a.top);
      ctx.fillStyle = '#000';
      ctx.font = '300 22px ' + FONT;
      if (showY) {
        ctx.textAlign = 'right';
        for (const v of Y_LABELS) {
          const py = y.getPixelForValue(v);
          ctx.textBaseline = (v === y.min) ? 'alphabetic' : 'middle';
          ctx.fillText(String(v), a.left - 9, py);
        }
      }
      if (showX) {
        ctx.textAlign = 'center';
        ctx.textBaseline = 'alphabetic';
        for (const v of X_LABELS) ctx.fillText(String(v), x.getPixelForValue(v), a.bottom + 38);
      }
      ctx.restore();
    }
  };
}

function labelPlugin(labels) {
  return {
    id: 'contourLabels',
    afterDatasetsDraw(chart) {
      const ctx = chart.ctx;
      for (const [level, seg, text] of labels) {
        const pts = chart.getDatasetMeta(level - 1).data;
        const p0 = pts[seg], p1 = pts[seg + 1];
        let ang = Math.atan2(p1.y - p0.y, p1.x - p0.x);
        if (ang > Math.PI / 2) ang -= Math.PI;
        if (ang < -Math.PI / 2) ang += Math.PI;
        ctx.save();
        ctx.translate((p0.x + p1.x) / 2, (p0.y + p1.y) / 2);
        ctx.rotate(ang);
        ctx.fillStyle = '#000';
        ctx.font = '12px ' + FONT;
        ctx.textAlign = 'center';
        ctx.textBaseline = 'middle';
        ctx.fillText(text, 0, 0);
        ctx.restore();
      }
    }
  };
}

function makeDatasets(levels, labels) {
  return levels.map((pts, i) => {
    const level = i + 1;
    const black = BLACK_LEVELS.includes(level);
    const gaps = labels.filter(l => l[0] === level).map(l => l[1]);
    return {
      label: (level * 2.5) + ' %',
      data: pts.map(p => ({x: p[0], y: p[1]})),
      backgroundColor: LEVEL_COLORS[i],
      borderColor: black ? '#000' : 'rgba(0,0,0,0)',
      borderWidth: black ? 1.3 : 0,
      fill: 'start',
      pointRadius: 0,
      cubicInterpolationMode: 'monotone',
      order: 100 - level,
      segment: { borderColor: ctx => gaps.includes(ctx.p0DataIndex) ? 'rgba(0,0,0,0)' : undefined }
    };
  });
}

const wrap = document.getElementById('wrap');
for (let r = 0; r < 5; r++) {
  for (let c = 0; c < 4; c++) {
    const [levels, labels] = PANELS[r][c];
    const w = COL_RIGHT[c] - COL_LEFT[c], h = ROW_BOTTOM[r] - ROW_TOP[r];
    const cv = document.createElement('canvas');
    cv.width = w + PAD_L + PAD_R; cv.height = h + PAD_T + PAD_B;
    cv.style.left = (COL_LEFT[c] - PAD_L) + 'px';
    cv.style.top = (ROW_TOP[r] - PAD_T) + 'px';
    cv.style.width = cv.width + 'px'; cv.style.height = cv.height + 'px';
    wrap.appendChild(cv);
    new Chart(cv, {
      type: 'line',
      data: { datasets: makeDatasets(levels, labels) },
      options: {
        responsive: false, animation: false, devicePixelRatio: 1, events: [],
        layout: { padding: { left: 0, right: PAD_R, top: PAD_T, bottom: 0 } },
        plugins: { legend: { display: false }, tooltip: { enabled: false } },
        elements: { line: { capBezierPoints: false } },
        scales: {
          x: { type: 'logarithmic', min: 1, max: 100,
               grid: { display: false, drawTicks: false }, border: { display: false },
               ticks: { display: false }, afterFit(s) { s.height = PAD_B; } },
          y: { type: 'logarithmic', min: 10, max: 1000,
               grid: { display: false, drawTicks: false }, border: { display: false },
               ticks: { display: false }, afterFit(s) { s.width = PAD_L; } }
        }
      },
      plugins: [labelPlugin(labels), framePlugin(c === 0, r === 4)]
    });
  }
}
</script>
</body></html>
